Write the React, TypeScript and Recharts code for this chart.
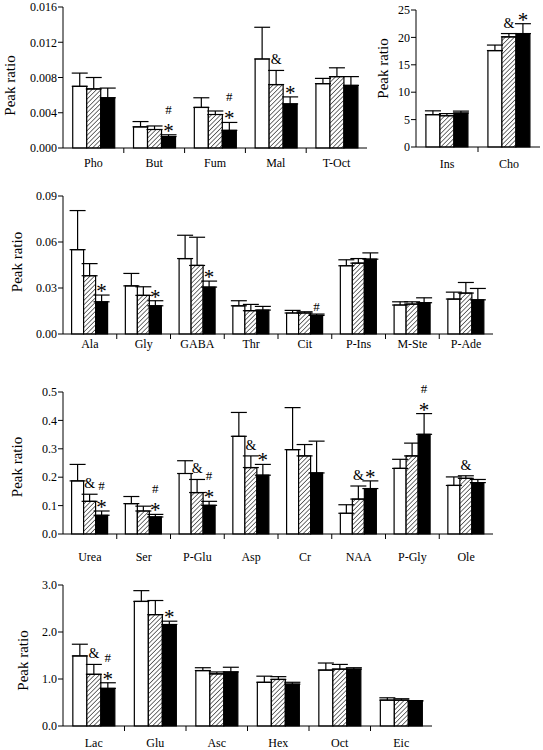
import React from 'react';
import { BarChart, Bar, XAxis, YAxis, ErrorBar, LabelList } from 'recharts';

const FONT = 'Liberation Serif, Times New Roman, Times, serif';

// panel 1: organic acids
const orgCats = ['Pho', 'But', 'Fum', 'Mal', 'T-Oct'];
const orgCtrl = [0.007, 0.0024, 0.0046, 0.0101, 0.0073];
const orgCtrlErr = [0.0015, 0.0006, 0.0011, 0.0036, 0.0006];
const orgMid = [0.0067, 0.0021, 0.0038, 0.0072, 0.0081];
const orgMidErr = [0.0013, 0.0004, 0.0004, 0.0016, 0.001];
const orgHigh = [0.0057, 0.0013, 0.002, 0.005, 0.0071];
const orgHighErr = [0.0011, 0.0002, 0.0009, 0.0008, 0.001];
const orgMidMarks = ['', '', '', '&', ''];
const orgHighMarks = ['', '*#', '*#', '*', ''];

// panel 2
const insCats = ['Ins', 'Cho'];
const insCtrl = [5.9, 17.6];
const insCtrlErr = [0.7, 1.0];
const insMid = [5.7, 20.1];
const insMidErr = [0.4, 0.6];
const insHigh = [6.2, 20.7];
const insHighErr = [0.35, 1.8];
const insMidMarks = ['', '&'];
const insHighMarks = ['', '*'];

// panel 3
const amCats = ['Ala', 'Gly', 'GABA', 'Thr', 'Cit', 'P-Ins', 'M-Ste', 'P-Ade'];
const amCtrl = [0.055, 0.0314, 0.0492, 0.0184, 0.0137, 0.0445, 0.0189, 0.0228];
const amCtrlErr = [0.0255, 0.0081, 0.0152, 0.0033, 0.0017, 0.0039, 0.0021, 0.0045];
const amMid = [0.038, 0.0252, 0.0447, 0.0152, 0.0137, 0.0462, 0.0195, 0.0267];
const amMidErr = [0.0079, 0.0056, 0.0184, 0.0041, 0.0008, 0.003, 0.0015, 0.0069];
const amHigh = [0.021, 0.0184, 0.0306, 0.0156, 0.0121, 0.0488, 0.0204, 0.0223];
const amHighErr = [0.0044, 0.0033, 0.0039, 0.0024, 0.0009, 0.0041, 0.0032, 0.0074];
const amMidMarks = ['', '', '', '', '', '', '', ''];
const amHighMarks = ['*', '*', '*', '', '#', '', '', ''];

// panel 4
const urCats = ['Urea', 'Ser', 'P-Glu', 'Asp', 'Cr', 'NAA', 'P-Gly', 'Ole'];
const urCtrl = [0.187, 0.107, 0.213, 0.344, 0.297, 0.073, 0.231, 0.171];
const urCtrlErr = [0.058, 0.025, 0.045, 0.084, 0.148, 0.03, 0.032, 0.03];
const urMid = [0.115, 0.081, 0.146, 0.234, 0.275, 0.123, 0.275, 0.196];
const urMidErr = [0.025, 0.017, 0.046, 0.041, 0.04, 0.046, 0.045, 0.009];
const urHigh = [0.066, 0.06, 0.101, 0.207, 0.215, 0.16, 0.351, 0.181];
const urHighErr = [0.015, 0.009, 0.014, 0.038, 0.112, 0.027, 0.073, 0.011];
const urMidMarks = ['&', '', '&', '&', '', '&', '', '&'];
const urHighMarks = ['*#', '*#', '*#', '*', '', '*', '*#', ''];

// panel 5
const lcCats = ['Lac', 'Glu', 'Asc', 'Hex', 'Oct', 'Eic'];
const lcCtrl = [1.49, 2.65, 1.18, 0.93, 1.19, 0.55];
const lcCtrlErr = [0.25, 0.23, 0.06, 0.13, 0.15, 0.05];
const lcMid = [1.1, 2.37, 1.11, 0.99, 1.21, 0.55];
const lcMidErr = [0.21, 0.3, 0.04, 0.06, 0.1, 0.03];
const lcHigh = [0.8, 2.16, 1.15, 0.89, 1.21, 0.53];
const lcHighErr = [0.12, 0.07, 0.1, 0.04, 0.03, 0.01];
const lcMidMarks = ['&', '', '', '', '', ''];
const lcHighMarks = ['*#', '*', '', '', '', ''];

const blank = (n: number) => Array(n).fill('');

const txt = (size: number) => ({ fontFamily: FONT, fontSize: size });

const CatTick = (props: any) => {
  const { x, y, payload, index, step, n, dy } = props;
  return (
    <g>
      <text x={x} y={y + dy} textAnchor="middle" style={txt(12)} fill="#000">
        {payload.value}
      </text>
      {index < n - 1 && (
        <line x1={x + step / 2} x2={x + step / 2} y1={y} y2={y + 5} stroke="#000" />
      )}
    </g>
  );
};

// stack significance marks above the error bar top
const markContent = (vals: number[], errs: number[]) => (p: any) => {
  const text: string = p.value;
  if (!text) return null;
  const vb = p.viewBox || p;
  const i = p.index;
  const h = Math.abs(vb.height);
  const top = Math.min(vb.y, vb.y + vb.height);
  let cur = top - errs[i] * (h / vals[i]);
  const cx = vb.x + vb.width / 2;
  const out: React.ReactNode[] = [];
  text.split('').forEach((ch, k) => {
    let base = cur;
    let size = 13;
    if (ch === '*') {
      base = cur + 3;
      size = 21;
      cur -= 18;
    } else if (ch === '#') {
      base = cur - 3;
      size = 13;
      cur -= 15;
    } else {
      base = cur - 6;
      size = 14;
      cur -= 18;
    }
    out.push(
      <text key={k} x={cx} y={base} textAnchor="middle" style={txt(size)} fill="#000">
        {ch}
      </text>
    );
  });
  return <g>{out}</g>;
};

type Series = { vals: number[]; errs: number[]; marks: string[] };

type PanelProps = {
  id: string;
  cats: string[];
  ctrl: Series;
  mid: Series;
  high: Series;
  ticks: number[];
  digits: number;
  left: number;
  top: number;
  width: number;
  height: number;
  mTop: number;
  mRight: number;
  yWidth: number;
  xHeight: number;
  labelDy: number;
  yLabelX: number;
  yLabelDy: number;
};

const Panel = (pp: PanelProps) => {
  const rows = pp.cats.map((c, i) => ({
    cat: c,
    a: pp.ctrl.vals[i],
    aE: pp.ctrl.errs[i],
    aM: pp.ctrl.marks[i],
    b: pp.mid.vals[i],
    bE: pp.mid.errs[i],
    bM: pp.mid.marks[i],
    c: pp.high.vals[i],
    cE: pp.high.errs[i],
    cM: pp.high.marks[i],
  }));
  const step = (pp.width - pp.yWidth - pp.mRight) / pp.cats.length;
  const hatch = `hatch-${pp.id}`;
  const yLabel = (p: any) => {
    const vb = p.viewBox || { x: 0, y: pp.mTop, width: pp.yWidth, height: pp.height - pp.mTop - pp.xHeight };
    const cx = vb.x + pp.yLabelX;
    const cy = vb.y + vb.height / 2 + pp.yLabelDy;
    return (
      <text
        x={cx}
        y={cy}
        transform={`rotate(-90 ${cx} ${cy})`}
        textAnchor="middle"
        dominantBaseline="central"
        style={txt(15)}
        fill="#000"
      >
        Peak ratio
      </text>
    );
  };
  return (
    <div style={{ position: 'absolute', left: pp.left, top: pp.top }}>
      <BarChart
        width={pp.width}
        height={pp.height}
        data={rows}
        margin={{ top: pp.mTop, right: pp.mRight, bottom: 0, left: 0 }}
        barCategoryGap="16%"
        barGap={0}
      >
        <defs>
          <pattern id={hatch} patternUnits="userSpaceOnUse" width={3.2} height={3.2} patternTransform="rotate(45)">
            <rect width={3.2} height={3.2} fill="#fff" />
            <line x1={0} y1={0} x2={0} y2={3.2} stroke="#000" strokeWidth={1.1} />
          </pattern>
        </defs>
        <XAxis
          dataKey="cat"
          height={pp.xHeight}
          interval={0}
          tickLine={false}
          tickSize={0}
          tickMargin={0}
          axisLine={{ stroke: '#000' }}
          tick={<CatTick step={step} n={pp.cats.length} dy={pp.labelDy} />}
        />
        <YAxis
          width={pp.yWidth}
          domain={[0, pp.ticks[pp.ticks.length - 1]]}
          ticks={pp.ticks}
          interval={0}
          tickFormatter={(v: number) => v.toFixed(pp.digits)}
          tick={{ fill: '#000', fontSize: 12, fontFamily: FONT, style: txt(12) }}
          tickSize={5}
          tickMargin={1}
          axisLine={{ stroke: '#000' }}
          tickLine={{ stroke: '#000' }}
          label={yLabel}
        />
        <Bar dataKey="a" fill="#fff" stroke="#000" strokeWidth={1.2} isAnimationActive={false}>
          <ErrorBar dataKey={(d: any) => [0, d.aE]} width={8} stroke="#000" strokeWidth={1.2} direction="y" />
          <LabelList dataKey="aM" content={markContent(pp.ctrl.vals, pp.ctrl.errs)} />
        </Bar>
        <Bar dataKey="b" fill={`url(#${hatch})`} stroke="#000" strokeWidth={1.2} isAnimationActive={false}>
          <ErrorBar dataKey={(d: any) => [0, d.bE]} width={8} stroke="#000" strokeWidth={1.2} direction="y" />
          <LabelList dataKey="bM" content={markContent(pp.mid.vals, pp.mid.errs)} />
        </Bar>
        <Bar dataKey="c" fill="#000" stroke="#000" strokeWidth={1.2} isAnimationActive={false}>
          <ErrorBar dataKey={(d: any) => [0, d.cE]} width={8} stroke="#000" strokeWidth={1.2} direction="y" />
          <LabelList dataKey="cM" content={markContent(pp.high.vals, pp.high.errs)} />
        </Bar>
      </BarChart>
    </div>
  );
};

export default function App() {
  return (
    <div style={{ position: 'absolute', left: 0, top: 0, width: 543, height: 750, background: '#fff' }}>
      <Panel
        id="org"
        cats={orgCats}
        ctrl={{ vals: orgCtrl, errs: orgCtrlErr, marks: blank(orgCats.length) }}
        mid={{ vals: orgMid, errs: orgMidErr, marks: orgMidMarks }}
        high={{ vals: orgHigh, errs: orgHighErr, marks: orgHighMarks }}
        ticks={[0, 0.004, 0.008, 0.012, 0.016]}
        digits={3}
        left={0}
        top={0}
        width={380}
        height={175}
        mTop={7}
        mRight={13}
        yWidth={63}
        xHeight={27}
        labelDy={19}
        yLabelX={10}
        yLabelDy={8}
      />
      <Panel
        id="ins"
        cats={insCats}
        ctrl={{ vals: insCtrl, errs: insCtrlErr, marks: blank(insCats.length) }}
        mid={{ vals: insMid, errs: insMidErr, marks: insMidMarks }}
        high={{ vals: insHigh, errs: insHighErr, marks: insHighMarks }}
        ticks={[0, 5, 10, 15, 20, 25]}
        digits={0}
        left={370}
        top={0}
        width={173}
        height={175}
        mTop={10}
        mRight={3}
        yWidth={46}
        xHeight={28}
        labelDy={21}
        yLabelX={13}
        yLabelDy={-10}
      />
      <Panel
        id="am"
        cats={amCats}
        ctrl={{ vals: amCtrl, errs: amCtrlErr, marks: blank(amCats.length) }}
        mid={{ vals: amMid, errs: amMidErr, marks: amMidMarks }}
        high={{ vals: amHigh, errs: amHighErr, marks: amHighMarks }}
        ticks={[0, 0.03, 0.06, 0.09]}
        digits={2}
        left={0}
        top={180}
        width={543}
        height={175}
        mTop={16}
        mRight={50}
        yWidth={63}
        xHeight={21}
        labelDy={14}
        yLabelX={17}
        yLabelDy={-3}
      />
      <Panel
        id="ur"
        cats={urCats}
        ctrl={{ vals: urCtrl, errs: urCtrlErr, marks: blank(urCats.length) }}
        mid={{ vals: urMid, errs: urMidErr, marks: urMidMarks }}
        high={{ vals: urHigh, errs: urHighErr, marks: urHighMarks }}
        ticks={[0, 0.1, 0.2, 0.3, 0.4, 0.5]}
        digits={1}
        left={0}
        top={370}
        width={543}
        height={200}
        mTop={22}
        mRight={50}
        yWidth={63}
        xHeight={36}
        labelDy={27}
        yLabelX={17}
        yLabelDy={4}
      />
      <Panel
        id="lc"
        cats={lcCats}
        ctrl={{ vals: lcCtrl, errs: lcCtrlErr, marks: blank(lcCats.length) }}
        mid={{ vals: lcMid, errs: lcMidErr, marks: lcMidMarks }}
        high={{ vals: lcHigh, errs: lcHighErr, marks: lcHighMarks }}
        ticks={[0, 1, 2, 3]}
        digits={1}
        left={0}
        top={570}
        width={543}
        height={180}
        mTop={15}
        mRight={111}
        yWidth={63}
        xHeight={24}
        labelDy={21}
        yLabelX={23}
        yLabelDy={5}
      />
    </div>
  );
}
